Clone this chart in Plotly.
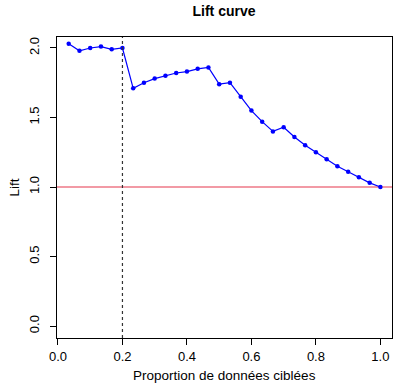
import plotly.graph_objects as go

# Data
proportion = [k / 30 for k in range(1, 31)]
lift = [2.03, 1.98, 2.00, 2.01, 1.99, 2.00, 1.71, 1.75, 1.78, 1.80,
        1.82, 1.83, 1.85, 1.86, 1.74, 1.75, 1.65, 1.55, 1.47, 1.40,
        1.43, 1.36, 1.30, 1.25, 1.20, 1.15, 1.11, 1.07, 1.03, 1.00]
x_ticks = [0.0, 0.2, 0.4, 0.6, 0.8, 1.0]
y_ticks = [0.0, 0.5, 1.0, 1.5, 2.0]
cutoff = 0.2
baseline = 1.0

font = "Liberation Sans, Arial, Helvetica, sans-serif"
W, H = 394, 386
L, R, T, B = 57, 2, 37, 48

fig = go.Figure()
fig.add_trace(go.Scatter(
    x=proportion, y=lift, mode="lines+markers",
    line=dict(color="#0000FF", width=1.2),
    marker=dict(color="#0000FF", size=4.5),
    showlegend=False, cliponaxis=False,
))

fig.add_shape(type="line", xref="paper", yref="y", x0=0, x1=1, y0=baseline, y1=baseline,
              line=dict(color="#F29AA5", width=2), layer="below")
fig.add_shape(type="line", xref="x", yref="paper", x0=cutoff, x1=cutoff, y0=0, y1=1,
              line=dict(color="#333333", width=1.2, dash="dot"))

pw, ph = W - L - R, H - T - B
fig.add_annotation(text="Proportion de données ciblées", xref="paper", yref="paper",
                   x=(224 - L) / pw, y=-(375 - (H - B)) / ph, showarrow=False,
                   xanchor="center", yanchor="middle", font=dict(size=13.5))
fig.add_annotation(text="Lift", xref="paper", yref="paper",
                   x=-(L - 14) / pw, y=0.5, showarrow=False, textangle=-90,
                   xanchor="center", yanchor="middle", font=dict(size=13.5))

fig.update_layout(
    width=W, height=H,
    margin=dict(l=L, r=R, t=T, b=B, autoexpand=False),
    paper_bgcolor="white", plot_bgcolor="white",
    font=dict(family=font, size=13, color="black"),
    title=dict(text="<b>Lift curve</b>", x=224 / W, xanchor="center", y=1 - 11 / H, yanchor="middle",
               font=dict(size=14, family=font)),
)
fig.update_xaxes(
    range=[-0.003, 1.036], tickvals=x_ticks, ticktext=[f"{v:.1f}" for v in x_ticks],
    showgrid=False, zeroline=False, showline=True, mirror=True, linecolor="black", linewidth=1,
    ticks="outside", ticklen=6, tickcolor="black", automargin=False,
    tickfont=dict(size=13),
)
fig.update_yaxes(
    range=[-0.086, 2.079], tickvals=y_ticks, ticktext=[f"{v:.1f}" for v in y_ticks],
    showgrid=False, zeroline=False, showline=True, mirror=True, linecolor="black", linewidth=1,
    ticks="outside", ticklen=6, tickcolor="black", tickangle=-90, automargin=False,
    tickfont=dict(size=13), ticklabelstandoff=6,
)

fig.write_html("out.html", config={"displayModeBar": False},
               post_script="document.body.style.margin='0';")
